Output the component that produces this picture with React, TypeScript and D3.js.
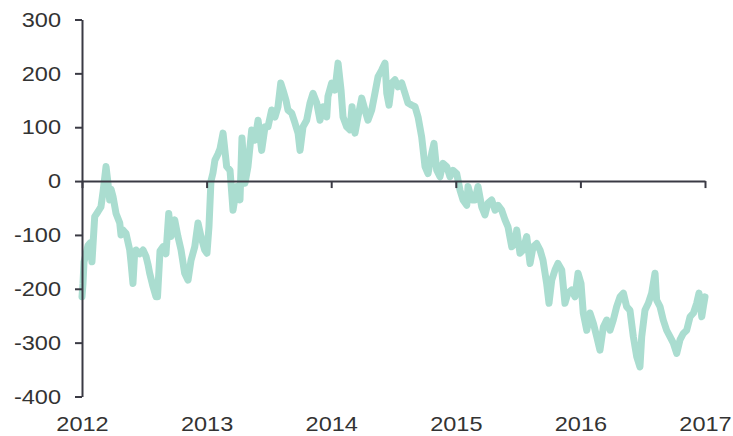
import React, { useEffect, useRef } from 'react';
import * as d3 from 'd3';

// Dates as decimal years
const dates = [
  2012.000, 2012.008, 2012.016, 2012.032, 2012.048, 2012.064, 2012.080, 2012.102, 2012.128, 2012.152,
  2012.169, 2012.193, 2012.209, 2012.222, 2012.233, 2012.249, 2012.273, 2012.303, 2012.313, 2012.329,
  2012.353, 2012.383, 2012.393, 2012.409, 2012.421, 2012.433, 2012.463, 2012.490, 2012.514, 2012.530,
  2012.543, 2012.570, 2012.594, 2012.606, 2012.626, 2012.650, 2012.674, 2012.696, 2012.714, 2012.744,
  2012.770, 2012.795, 2012.824, 2012.851, 2012.875, 2012.905, 2012.931, 2012.955, 2012.985, 2013.003,
  2013.019, 2013.035, 2013.051, 2013.067, 2013.091, 2013.108, 2013.132, 2013.161, 2013.188, 2013.212,
  2013.242, 2013.268, 2013.284, 2013.308, 2013.332, 2013.362, 2013.388, 2013.413, 2013.442, 2013.469,
  2013.493, 2013.522, 2013.549, 2013.573, 2013.595, 2013.613, 2013.637, 2013.653, 2013.683, 2013.709,
  2013.734, 2013.750, 2013.774, 2013.803, 2013.830, 2013.854, 2013.884, 2013.910, 2013.934, 2013.964,
  2013.974, 2014.004, 2014.030, 2014.055, 2014.079, 2014.095, 2014.124, 2014.151, 2014.167, 2014.191,
  2014.215, 2014.245, 2014.271, 2014.295, 2014.325, 2014.351, 2014.376, 2014.405, 2014.432, 2014.446,
  2014.464, 2014.486, 2014.512, 2014.536, 2014.566, 2014.592, 2014.616, 2014.646, 2014.673, 2014.697,
  2014.726, 2014.753, 2014.777, 2014.807, 2014.825, 2014.847, 2014.873, 2014.897, 2014.927, 2014.953,
  2014.978, 2015.007, 2015.034, 2015.058, 2015.088, 2015.098, 2015.128, 2015.154, 2015.178, 2015.208,
  2015.234, 2015.258, 2015.288, 2015.315, 2015.339, 2015.368, 2015.395, 2015.419, 2015.449, 2015.475,
  2015.489, 2015.515, 2015.539, 2015.569, 2015.596, 2015.620, 2015.649, 2015.676, 2015.700, 2015.729,
  2015.748, 2015.770, 2015.796, 2015.820, 2015.850, 2015.876, 2015.900, 2015.930, 2015.957, 2015.981,
  2016.005, 2016.023, 2016.051, 2016.077, 2016.104, 2016.131, 2016.157, 2016.184, 2016.211, 2016.238,
  2016.264, 2016.291, 2016.318, 2016.345, 2016.371, 2016.398, 2016.425, 2016.452, 2016.478, 2016.492,
  2016.518, 2016.545, 2016.572, 2016.599, 2016.612, 2016.639, 2016.665, 2016.692, 2016.719, 2016.746,
  2016.773, 2016.799, 2016.826, 2016.853, 2016.880, 2016.907, 2016.933, 2016.952, 2016.974, 2016.987,
  2017.000,
];

const values = [
  -215, -190, -150, -135, -120, -115, -150, -66, -57, -48,
  -20, 27, -5, -35, -15, -29, -60, -78, -100, -91,
  -97, -128, -150, -190, -140, -128, -135, -128, -140, -155,
  -171, -196, -215, -215, -130, -122, -135, -60, -103, -72,
  -103, -128, -171, -184, -147, -122, -78, -103, -128, -134,
  -85, 0, 15, 39, 50, 60, 89, 27, 20, -54,
  -10, -35, 80, -4, 27, 95, 76, 113, 57, 101,
  101, 132, 119, 138, 182, 169, 150, 132, 126, 108,
  89, 57, 101, 113, 145, 163, 145, 113, 138, 119,
  157, 182, 169, 219, 169, 119, 101, 95, 138, 89,
  119, 154, 132, 113, 132, 163, 194, 206, 219, 163,
  141, 182, 188, 175, 182, 163, 145, 141, 138, 119,
  82, 27, 14, 52, 70, 20, 8, 33, 27, 8,
  20, 14, -17, -35, -45, -10, -35, -35, -10, -48,
  -63, -41, -35, -54, -45, -54, -72, -85, -122, -116,
  -91, -134, -128, -103, -153, -122, -116, -128, -147, -190,
  -227, -184, -165, -153, -165, -227, -208, -202, -215, -171,
  -190, -245, -277, -245, -264, -289, -314, -271, -258, -277,
  -258, -233, -215, -208, -233, -240, -289, -326, -345, -289,
  -240, -227, -208, -171, -221, -233, -258, -277, -289, -301,
  -320, -295, -283, -277, -252, -245, -227, -208, -252, -233,
  -215,
];

const yTicks = [-400, -300, -200, -100, 0, 100, 200, 300];
const xTicks = [2012, 2013, 2014, 2015, 2016, 2017];

const App = () => {
  const ref = useRef<SVGSVGElement>(null);

  useEffect(() => {
    const svg = d3.select(ref.current);
    svg.selectAll('*').remove();

    const axisColor = '#3a3a44';
    const textColor = '#333333';
    const font = '"Liberation Sans", Arial, sans-serif';

    const x = d3.scaleLinear().domain([2012, 2017]).range([82, 705]);
    const y = d3.scaleLinear().domain([-400, 300]).range([396.5, 19.5]);

    const data = dates.map((d, i) => ({ date: d, value: values[i] }));

    // Series line (drawn under the axes)
    const line = d3
      .line<{ date: number; value: number }>()
      .x((d) => x(d.date))
      .y((d) => y(d.value));

    svg
      .append('path')
      .datum(data)
      .attr('d', line)
      .attr('fill', 'none')
      .attr('stroke', '#aaddd0')
      .attr('stroke-width', 7)
      .attr('stroke-linejoin', 'round')
      .attr('stroke-linecap', 'round');

    // Stretch the labels a bit, the reference glyphs are wider than Arial
    const widen = function (this: SVGTextElement) {
      const w = this.getComputedTextLength();
      this.setAttribute('textLength', String(w * 1.12));
      this.setAttribute('lengthAdjust', 'spacingAndGlyphs');
    };

    // Y axis (plain hyphen for negatives, like the reference)
    const yAxis = svg
      .append('g')
      .attr('transform', 'translate(82,0)')
      .call(
        d3
          .axisLeft(y)
          .tickValues(yTicks)
          .tickSize(7)
          .tickSizeOuter(0)
          .tickPadding(14)
          .tickFormat((d) => String(d))
      );
    yAxis.select('.domain').attr('stroke', axisColor).attr('stroke-width', 2);
    yAxis.selectAll('.tick line').attr('stroke', axisColor).attr('stroke-width', 2);
    yAxis
      .selectAll<SVGTextElement, number>('.tick text')
      .attr('fill', textColor)
      .style('font-family', font)
      .style('font-size', '21px')
      .each(widen);

    // Zero line with year ticks
    const xAxis = svg
      .append('g')
      .attr('transform', `translate(0,${y(0)})`)
      .call(d3.axisBottom(x).tickValues(xTicks).tickSize(7).tickSizeOuter(0).tickFormat(() => ''));
    xAxis.select('.domain').attr('stroke', axisColor).attr('stroke-width', 2);
    xAxis.selectAll('.tick line').attr('stroke', axisColor).attr('stroke-width', 2);

    // Year labels along the bottom
    const xLabels = svg
      .append('g')
      .attr('transform', `translate(0,${y(-400)})`)
      .call(d3.axisBottom(x).tickValues(xTicks).tickSize(0).tickPadding(20).tickFormat((d) => String(d)));
    xLabels.select('.domain').remove();
    xLabels
      .selectAll<SVGTextElement, number>('.tick text')
      .attr('fill', textColor)
      .style('font-family', font)
      .style('font-size', '21px')
      .each(widen);
  }, []);

  return (
    <svg
      ref={ref}
      width={733}
      height={436}
      style={{ position: 'absolute', left: 0, top: 0, background: '#ffffff' }}
    />
  );
};

export default App;
